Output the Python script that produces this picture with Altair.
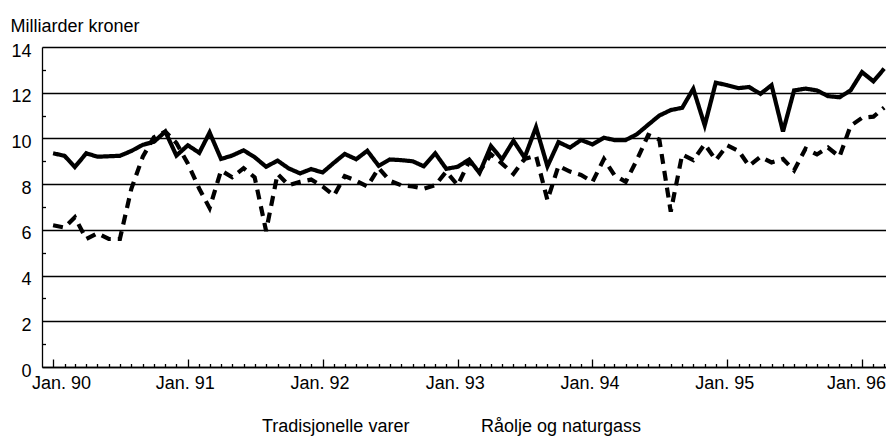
import altair as alt
import pandas as pd

# Monthly observations, Jan 1990 - Mar 1996
months = [f"{y}-{m:02d}-01" for y in range(1990, 1997) for m in range(1, 13)][:75]

series_names = ["Tradisjonelle varer", "Råolje og naturgass"]

tradisjonelle = [
    9.35, 9.24, 8.75, 9.35, 9.20, 9.22, 9.24, 9.45, 9.72, 9.85, 10.30, 9.25,
    9.70, 9.37, 10.26, 9.10, 9.25, 9.48, 9.18, 8.76, 9.03, 8.69, 8.47, 8.66,
    8.51, 8.94, 9.32, 9.09, 9.46, 8.80, 9.08, 9.05, 9.00, 8.78, 9.35, 8.67,
    8.76, 9.08, 8.49, 9.67, 9.08, 9.90, 9.16, 10.49, 8.78, 9.84, 9.60, 9.93,
    9.74, 10.03, 9.93, 9.93, 10.18, 10.60, 11.00, 11.24, 11.34, 12.17, 10.57, 12.44,
    12.33, 12.20, 12.25, 11.95, 12.33, 10.30, 12.10, 12.18, 12.10, 11.85, 11.80, 12.10,
    12.90, 12.50, 13.05,
]

raolje = [
    6.20, 6.10, 6.55, 5.60, 5.85, 5.60, 5.60, 7.80, 9.20, 10.05, 10.30, 9.80,
    8.90, 7.80, 6.95, 8.60, 8.30, 8.70, 8.30, 5.95, 8.45, 7.95, 8.10, 8.20,
    7.90, 7.50, 8.35, 8.15, 7.90, 8.70, 8.15, 7.95, 7.90, 7.80, 7.95, 8.55,
    7.95, 9.00, 8.55, 9.30, 8.90, 8.45, 9.10, 9.25, 7.30, 8.80, 8.55, 8.40,
    8.10, 9.10, 8.40, 8.10, 9.05, 10.15, 9.95, 6.80, 9.30, 9.05, 9.75, 9.05,
    9.70, 9.45, 8.80, 9.20, 8.95, 9.10, 8.60, 9.55, 9.30, 9.60, 9.20, 10.55,
    10.90, 10.95, 11.35,
]

tick_labels = ["Jan. 90", "Jan. 91", "Jan. 92", "Jan. 93", "Jan. 94", "Jan. 95", "Jan. 96"]
y_major = [0, 2, 4, 6, 8, 10, 12, 14]
y_minor = [1, 3, 5, 7, 9, 11, 13]

df = pd.DataFrame({
    "date": months + months,
    "value": tradisjonelle + raolje,
    "series": [series_names[0]] * len(months) + [series_names[1]] * len(months),
})

FONT = "Liberation Sans"
W, H = 844, 320

x_scale = alt.Scale(
    type="utc",
    domain=[alt.DateTime(year=1989, month=12, date=2, utc=True),
            alt.DateTime(year=1996, month=3, date=6, utc=True)],
)
y_scale = alt.Scale(domain=[0, 14], nice=False, zero=True)

year_ticks = [alt.DateTime(year=1990 + i, month=1, date=1, utc=True) for i in range(len(tick_labels))]
month_ticks = [alt.DateTime(year=int(m[:4]), month=int(m[5:7]), date=1, utc=True) for m in months]

label_array = "[" + ",".join(f"'{t}'" for t in tick_labels) + "]"

lines = alt.Chart(df).mark_line(strokeWidth=4.2, strokeCap="butt", color="black").encode(
    x=alt.X(
        "date:T", scale=x_scale,
        axis=alt.Axis(
            orient="bottom", values=year_ticks,
            labelExpr=f"{label_array}[utcyear(datum.value) - 1990]",
            tickSize=0, grid=False, domainColor="black", domainWidth=1.3,
            labelFontSize=18, labelFont=FONT, labelColor="black", labelPadding=7,
            labelOffset={
                "condition": [
                    {"test": "utcyear(datum.value) === 1990", "value": 8},
                    {"test": "utcyear(datum.value) === 1996", "value": -6},
                ],
                "value": -3,
            },
            title=None,
        ),
    ),
    y=alt.Y(
        "value:Q", scale=y_scale,
        axis=alt.Axis(
            orient="left", values=y_major, grid=True, gridColor="black", gridWidth=1.3,
            tickSize=0, domainColor="black", domainWidth=1.3,
            labelFontSize=18, labelFont=FONT, labelColor="black", labelPadding=11, labelOffset=4,
            title="Milliarder kroner", titleAngle=0, titleAlign="left", titleBaseline="alphabetic",
            titleX=-32, titleY=-16, titleFontSize=18, titleFont=FONT, titleFontWeight="normal",
            titleColor="black",
        ),
    ),
    strokeDash=alt.StrokeDash(
        "series:N",
        scale=alt.Scale(domain=series_names, range=[[1, 0], [10, 7]]),
        legend=alt.Legend(
            title=None, orient="none", legendX=202, legendY=371, direction="horizontal",
            symbolSize=0, symbolStrokeWidth=0, symbolOpacity=0, labelOffset=0,
            columnPadding=53, labelFontSize=18, labelFont=FONT, labelColor="black", labelLimit=0,
        ),
    ),
)

ticks = alt.Chart(df).mark_point(opacity=0).encode(
    x=alt.X(
        "date:T", scale=x_scale,
        axis=alt.Axis(
            orient="top", offset=-H, values=month_ticks, labels=False, domain=False, grid=False,
            tickColor="black", tickWidth=1.3,
            tickSize={"condition": {"test": "utcmonth(datum.value) === 0", "value": 8}, "value": 3.5},
            title=None,
        ),
    ),
    y=alt.Y(
        "value:Q", scale=y_scale,
        axis=alt.Axis(
            orient="right", offset=-W, values=y_minor, labels=False, domain=False, grid=False,
            tickColor="black", tickWidth=1.3, tickSize=3.5, title=None,
        ),
    ),
)

chart = alt.layer(ticks, lines).resolve_axis(x="independent", y="independent").properties(
    width=W, height=H,
    autosize=alt.AutoSizeParams(type="none"),
    padding={"left": 34, "top": 39, "right": 0, "bottom": 72},
).configure_view(stroke=None).configure(font=FONT)

chart.save("out.html", embed_options={"renderer": "svg", "actions": False})
